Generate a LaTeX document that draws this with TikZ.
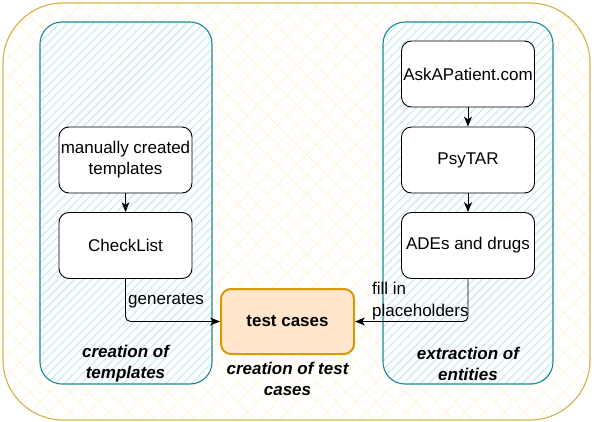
\documentclass[tikz,border=0pt]{standalone}
\usepackage{fontspec}
\setmainfont{Liberation Sans}
\usetikzlibrary{arrows.meta,patterns.meta}

\definecolor{goldline}{HTML}{D6B656}
\definecolor{goldhatch}{HTML}{FFF7DC}
\definecolor{tealline}{HTML}{1C8A93}
\definecolor{cyanhatch}{HTML}{CDEDF2}
\definecolor{orangefill}{HTML}{FFE6CC}
\definecolor{orangeline}{HTML}{D79B00}

\begin{document}
\begin{tikzpicture}[x=1pt,y=-1pt,
        box/.style={draw,rounded corners=10pt,line width=0.9pt,fill=white,
            minimum width=133pt,minimum height=66pt,inner sep=1pt,align=center,
            font=\fontsize{17}{21}\selectfont},
        caption/.style={align=center,font=\fontsize{17}{21}\selectfont\bfseries\itshape},
        lbl/.style={align=left,inner sep=0pt,font=\fontsize{17}{22}\selectfont},
        arr/.style={line width=0.9pt,rounded corners=5pt,-{Stealth[length=10pt,width=8pt,inset=3pt]}}]

    \useasboundingbox (0,0) rectangle (594,422);

    % Frame
    \draw[goldline,line width=1.2pt,rounded corners=60pt,preaction={fill=white},
        pattern={Hatch[angle=45,distance=14pt,line width=1pt]},pattern color=goldhatch]
        (3,3) rectangle (590,420);

    % Groups
    \draw[tealline,line width=1.1pt,rounded corners=22pt,preaction={fill=white},
        pattern={Lines[angle=45,distance=6pt,line width=1.3pt]},pattern color=cyanhatch]
        (40,22) rectangle (212,384);
    \draw[tealline,line width=1.1pt,rounded corners=22pt,preaction={fill=white},
        pattern={Lines[angle=45,distance=6pt,line width=1.3pt]},pattern color=cyanhatch]
        (383,22) rectangle (553,384);

    % Templates
    \node[box] (manual) at (125.5,160) {manually created\\templates};
    \node[box] (checklist) at (125.5,245.5) {CheckList};
    \node[caption] (captmpl) at (125.5,364) {creation of\\templates};

    % Entities
    \node[box] (ask) at (468,74) {AskAPatient.com};
    \node[box] (psytar) at (468,160) {PsyTAR};
    \node[box] (ades) at (468,245.5) {ADEs and drugs};
    \node[caption] (capent) at (468,364) {extraction of\\entities};

    % Test cases
    \node[box,fill=orangefill,draw=orangeline,line width=2pt,minimum height=65pt,
        font=\fontsize{17}{21}\selectfont\bfseries] (tests) at (287.5,321.5) {test cases};
    \node[caption] (captest) at (287.5,378.5) {creation of test\\cases};

    % Edges
    \draw[arr] (manual) -- (checklist);
    \draw[arr] (ask) -- (psytar);
    \draw[arr] (psytar) -- (ades);
    \draw[arr] (checklist.south) |- (tests.west);
    \draw[arr] (ades.south) |- (tests.east);

    % Edge labels
    \node[lbl,anchor=west] (gen) at (128,301) {generates};
    \node[lbl,anchor=west] (fill) at (372,301) {fill in\\placeholders};
\end{tikzpicture}
\end{document}
